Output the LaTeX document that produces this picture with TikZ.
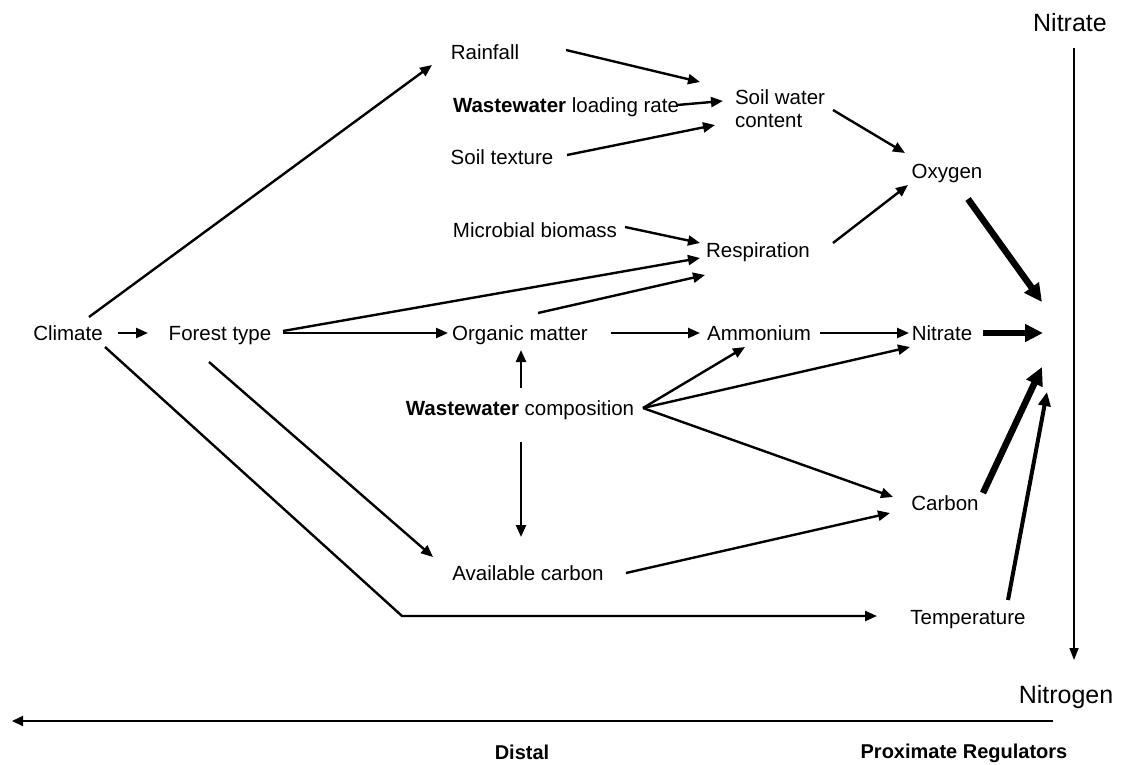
\documentclass[tikz,border=0pt]{standalone}
\usepackage{fontspec}
\setmainfont{Liberation Sans}
\usetikzlibrary{arrows.meta}
\begin{document}
\begin{tikzpicture}[x=1pt,y=-1pt,
  lbl/.style={inner sep=0pt, text height=14.7pt, text depth=0pt, font=\fontsize{20.5}{23}\selectfont},
  big/.style={inner sep=0pt, text height=17.8pt, text depth=0pt, font=\fontsize{25}{28}\selectfont},
  bl/.style={inner sep=0pt, text height=14.3pt, text depth=0pt, font=\fontsize{20}{23}\selectfont\bfseries},
  arr/.style={line width=2.4pt, -{Triangle[length=12pt,width=10pt]}},
  thk/.style={line width=6.5pt, -{Triangle[length=18pt,width=17pt]}},
  med/.style={line width=4pt, -{Triangle[length=14pt,width=12pt]}},
  thinarr/.style={line width=1.7pt, -{Triangle[length=12pt,width=9pt]}},
]
\useasboundingbox (0,0) rectangle (1127,764);

% nodes
\node[lbl] (climate) at (68,333) {Climate};
\node[lbl] (forest) at (220,333) {Forest type};
\node[lbl] (rain) at (485,52) {Rainfall};
\node[lbl] (wwload) at (566,105) {\textbf{Wastewater} loading rate};
\node[lbl] (stex) at (502,157) {Soil texture};
\node[inner sep=0pt, align=left, font=\fontsize{20.5}{23}\selectfont] (swc) at (780,109) {Soil water\\content};
\node[lbl] (micro) at (535,230) {Microbial biomass};
\node[lbl] (resp) at (758,250) {Respiration};
\node[lbl] (oxy) at (947,171) {Oxygen};
\node[lbl] (orgm) at (520,333) {Organic matter};
\node[lbl] (amm) at (759,333) {Ammonium};
\node[lbl] (nitr) at (942,333) {Nitrate};
\node[lbl] (wwc) at (520,408) {\textbf{Wastewater} composition};
\node[lbl] (avc) at (528,573) {Available carbon};
\node[lbl] (carb) at (945,503) {Carbon};
\node[lbl] (temp) at (968,617) {Temperature};
\node[big] (ntop) at (1070,23) {Nitrate};
\node[big] (nbot) at (1066,695) {Nitrogen};
\node[bl] (distal) at (522,752) {Distal};
\node[bl] (prox) at (964,751) {Proximate Regulators};

\coordinate (conv) at (1043,333);
\coordinate (tbend) at (402,616);
\coordinate (axR) at (1053,721);
\coordinate (axL) at (12,721);

% connectors
\draw[arr] ([shift={(21,-16)}]climate.center) -- ([shift={(-53,13)}]rain.center);
\draw[arr] ([shift={(50,0)}]climate.center) -- ([shift={(-72,0)}]forest.center);
\draw[arr] ([shift={(37,14)}]climate.center) -- (tbend) -- ([shift={(-91,-1)}]temp.center);
\draw[arr] ([shift={(63,0)}]forest.center) -- ([shift={(-72,0)}]orgm.center);
\draw[arr] ([shift={(63,-2)}]forest.center) -- ([shift={(-58,8)}]resp.center);
\draw[arr] ([shift={(-11,29)}]forest.center) -- ([shift={(-95,-16)}]avc.center);
\draw[arr] ([shift={(81,-2)}]rain.center) -- ([shift={(-80,-27)}]swc.center);
\draw[arr] ([shift={(111,0)}]wwload.center) -- ([shift={(-57,-8)}]swc.center);
\draw[arr] ([shift={(65,-2)}]stex.center) -- ([shift={(-65,16)}]swc.center);
\draw[arr] ([shift={(53,1)}]swc.center) -- ([shift={(-42,-18)}]oxy.center);
\draw[arr] ([shift={(90,-3)}]micro.center) -- ([shift={(-58,-7)}]resp.center);
\draw[arr] ([shift={(18,-20)}]orgm.center) -- ([shift={(-53,25)}]resp.center);
\draw[arr] ([shift={(75,-7)}]resp.center) -- ([shift={(-39,14)}]oxy.center);
\draw[arr] ([shift={(91,0)}]orgm.center) -- ([shift={(-59,0)}]amm.center);
\draw[arr] ([shift={(61,0)}]amm.center) -- ([shift={(-33,0)}]nitr.center);
\draw[arr] ([shift={(1,-20)}]wwc.center) -- ([shift={(1,17)}]orgm.center);
\draw[arr] ([shift={(1,34)}]wwc.center) -- ([shift={(-7,-36)}]avc.center);
\draw[arr] ([shift={(123,0)}]wwc.center) -- ([shift={(-14,14)}]amm.center);
\draw[arr] ([shift={(123,0)}]wwc.center) -- ([shift={(-32,14)}]nitr.center);
\draw[arr] ([shift={(123,0)}]wwc.center) -- ([shift={(-52,-6)}]carb.center);
\draw[arr] ([shift={(98,0)}]avc.center) -- ([shift={(-55,10)}]carb.center);
\draw[thk] ([shift={(21,28)}]oxy.center) -- ([shift={(-1,-31)}]conv);
\draw[thk] ([shift={(41,0)}]nitr.center) -- (conv);
\draw[thk] ([shift={(38,-10)}]carb.center) -- ([shift={(-1,34)}]conv);
\draw[med] ([shift={(40,-17)}]temp.center) -- ([shift={(4,59)}]conv);
\draw[thinarr] ([shift={(4,25)}]ntop.center) -- ([shift={(8,-35)}]nbot.center);
\draw[line width=2pt, -{Triangle[length=11pt,width=10pt]}] (axR) -- (axL);
\end{tikzpicture}
\end{document}
